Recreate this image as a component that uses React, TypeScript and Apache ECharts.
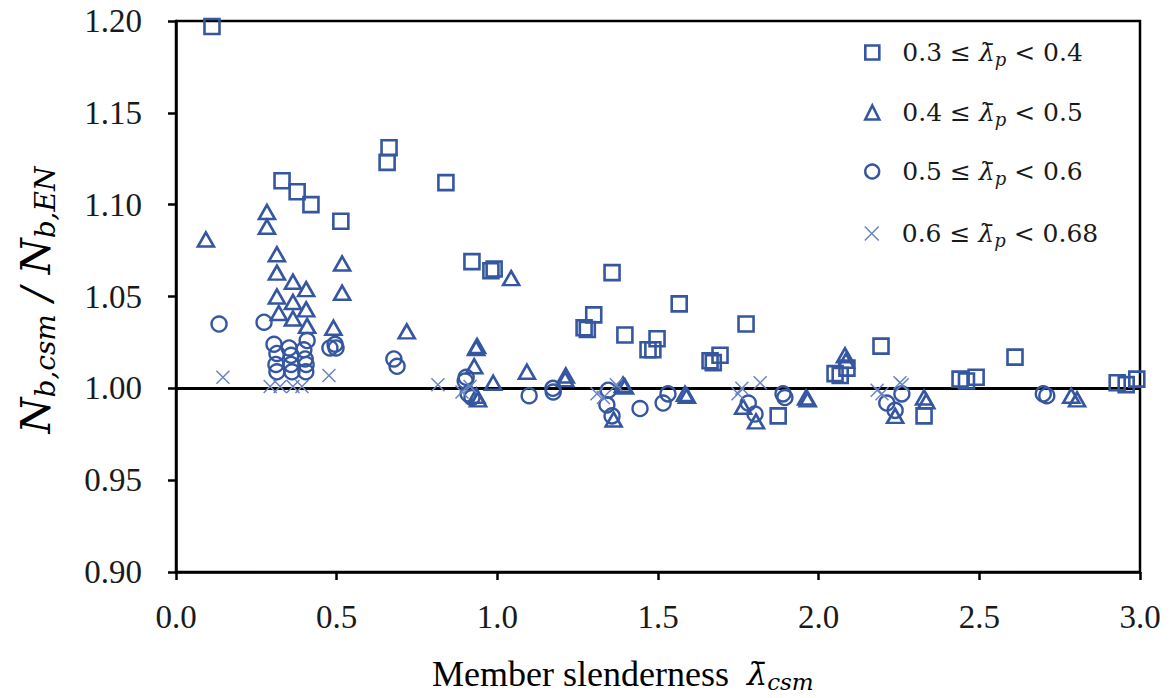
import React, { useEffect, useRef } from "react";
import * as echarts from "echarts";

// ---------- data ----------
const squares: number[][] = [
  [0.112, 1.197], [0.33, 1.113], [0.377, 1.107], [0.42, 1.1], [0.513, 1.091],
  [0.663, 1.131], [0.657, 1.123], [0.84, 1.112], [0.921, 1.069], [0.98, 1.064],
  [0.99, 1.065], [1.357, 1.063], [1.3, 1.04], [1.27, 1.033], [1.28, 1.032],
  [1.397, 1.029], [1.566, 1.046], [1.497, 1.027], [1.469, 1.021], [1.484, 1.021],
  [1.693, 1.018], [1.662, 1.015], [1.672, 1.014], [1.774, 1.035], [1.874, 0.985],
  [2.051, 1.008], [2.088, 1.011], [2.067, 1.007], [2.194, 1.023], [2.328, 0.985],
  [2.44, 1.005], [2.46, 1.004], [2.49, 1.006], [2.611, 1.017], [2.929, 1.003],
  [2.957, 1.002], [2.99, 1.005],
];

const triangles: number[][] = [
  [0.093, 1.081], [0.283, 1.096], [0.283, 1.088], [0.314, 1.073], [0.314, 1.063],
  [0.364, 1.058], [0.405, 1.054], [0.314, 1.05], [0.364, 1.047], [0.405, 1.043],
  [0.32, 1.041], [0.364, 1.038], [0.408, 1.034], [0.517, 1.068], [0.517, 1.052],
  [0.49, 1.033], [0.718, 1.031], [1.043, 1.06], [0.934, 1.022], [0.937, 1.023],
  [0.928, 1.012], [0.987, 1.003], [1.092, 1.009], [1.211, 1.005], [1.213, 1.007],
  [0.94, 0.994], [0.935, 0.996], [1.397, 1.001], [1.391, 1.002], [1.362, 0.983],
  [1.584, 0.997], [1.59, 0.996], [1.765, 0.99], [1.805, 0.982], [1.961, 0.995],
  [1.966, 0.994], [2.082, 1.018], [2.085, 1.015], [2.238, 0.985], [2.328, 0.995],
  [2.335, 0.993], [2.786, 0.996], [2.804, 0.994],
];

const circles: number[][] = [
  [0.134, 1.035], [0.274, 1.036], [0.305, 1.024], [0.314, 1.019], [0.311, 1.013],
  [0.314, 1.009], [0.352, 1.022], [0.358, 1.018], [0.358, 1.013], [0.361, 1.009],
  [0.398, 1.021], [0.402, 1.016], [0.405, 1.013], [0.404, 1.009], [0.408, 1.026],
  [0.479, 1.022], [0.495, 1.024], [0.498, 1.022], [0.678, 1.016], [0.688, 1.012],
  [0.903, 1.006], [0.9, 1.004], [0.909, 0.997], [0.921, 0.995], [1.099, 0.996],
  [1.173, 1.0], [1.174, 0.998], [1.345, 0.999], [1.341, 0.991], [1.357, 0.985],
  [1.444, 0.989], [1.516, 0.992], [1.531, 0.997], [1.781, 0.992], [1.802, 0.986],
  [1.889, 0.997], [1.895, 0.995], [2.212, 0.992], [2.238, 0.988], [2.259, 0.997],
  [2.699, 0.997], [2.71, 0.996],
];

const crosses: number[][] = [
  [0.146, 1.006], [0.293, 1.001], [0.324, 1.001], [0.364, 1.001], [0.392, 1.001],
  [0.476, 1.007], [0.815, 1.002], [0.89, 0.998], [0.915, 1.001], [1.31, 0.997],
  [1.33, 0.995], [1.37, 1.002], [1.749, 0.997], [1.761, 1.0], [1.818, 1.003],
  [2.182, 0.999], [2.197, 0.997], [2.253, 1.003], [2.26, 1.002],
];

const legendLow = ["0.3", "0.4", "0.5", "0.6"];
const legendHigh = ["0.4", "0.5", "0.6", "0.68"];
const seriesNames = legendLow.map((lo, i) => `${lo} ≤ λ̄p < ${legendHigh[i]}`);

const xMin = 0, xMax = 3, xStep = 0.5;
const yMin = 0.9, yMax = 1.2, yStep = 0.05;
const refLine = 1.0;

// ---------- styles ----------
const BLUE = "#3556a0";
const CROSS_BLUE = "#6a84c2";
const CROSS_PATH = "path://M0,0L10,10M10,0L0,10";
const LEG_TOPS = [40, 100, 159, 221];
const INK = "#1a1a1a";

const symbols = ["rect", "triangle", "circle", CROSS_PATH];
const sizes: any[] = [15, [16, 14], 15, 13];
const strokes = [BLUE, BLUE, BLUE, CROSS_BLUE];
const widths = [2.6, 2.6, 2.4, 1.5];
const datasets = [squares, triangles, circles, crosses];

const legendRich = {
  t: { fontFamily: "DejaVu Serif", fontSize: 25, color: INK },
  l: { fontFamily: "DejaVu Serif", fontStyle: "italic", fontSize: 25, color: INK },
  s: { fontFamily: "DejaVu Serif", fontStyle: "italic", fontSize: 18, color: INK, padding: [14, 0, 0, 0] },
};

export default function App() {
  const ref = useRef<HTMLDivElement>(null);
  useEffect(() => {
    const chart = echarts.init(ref.current!, null, { renderer: "svg" });
    const series: any[] = datasets.map((d, i) => ({
      type: "scatter",
      name: seriesNames[i],
      data: d,
      symbol: symbols[i],
      symbolSize: sizes[i],
      itemStyle: { color: "rgba(0,0,0,0)", borderColor: strokes[i], borderWidth: widths[i], opacity: 1 },
      emphasis: { disabled: true },
      z: 3,
    }));
    series[0].markLine = {
      silent: true,
      symbol: "none",
      z: 2,
      label: { show: false },
      lineStyle: { color: "#000", width: 3, type: "solid", opacity: 1 },
      data: [{ yAxis: refLine }],
    };
    const legends = seriesNames.map((n, i) => ({
      data: [n],
      left: 864,
      top: LEG_TOPS[i],
      padding: 0,
      selectedMode: false,
      itemWidth: 14,
      itemHeight: 14,
      icon: symbols[i],
      itemStyle: { color: "rgba(0,0,0,0)", borderColor: strokes[i], borderWidth: widths[i] },
      formatter: () => `{t|${legendLow[i]} ≤ }{l|λ̄}{s|p}{t| < ${legendHigh[i]}}`,
      textStyle: { padding: [0, 0, 0, 18], rich: legendRich },
    }));
    chart.setOption({
      animation: false,
      backgroundColor: "#fff",
      grid: { left: 176, top: 21, right: 32, bottom: 126, show: true, borderColor: "#000", borderWidth: 2.5 },
      xAxis: {
        type: "value",
        min: xMin,
        max: xMax,
        interval: xStep,
        axisLine: { show: true, lineStyle: { color: "#000", width: 2.5 } },
        axisTick: { show: true, inside: false, length: 8, lineStyle: { color: "#000", width: 2.5 } },
        axisLabel: {
          margin: 28,
          fontFamily: "Liberation Serif",
          fontSize: 33,
          color: INK,
          formatter: (v: number) => v.toFixed(1),
        },
        splitLine: { show: false },
      },
      yAxis: {
        type: "value",
        min: yMin,
        max: yMax,
        interval: yStep,
        axisLine: { show: true, lineStyle: { color: "#000", width: 2.5 } },
        axisTick: { show: true, inside: false, length: 8, lineStyle: { color: "#000", width: 2.5 } },
        axisLabel: {
          margin: 34,
          fontFamily: "Liberation Serif",
          fontSize: 33,
          color: INK,
          formatter: (v: number) => v.toFixed(2),
        },
        splitLine: { show: false },
      },
      legend: legends,
      graphic: [
        {
          type: "text",
          left: 432,
          top: 656,
          style: {
            text: "{a|Member slenderness  }{l|λ̄}{s|csm}",
            rich: {
              a: { fontFamily: "Liberation Serif", fontSize: 36, color: INK },
              l: { fontFamily: "DejaVu Serif", fontStyle: "italic", fontSize: 32, color: INK },
              s: { fontFamily: "DejaVu Serif", fontStyle: "italic", fontSize: 23, color: INK, padding: [16, 0, 0, 0] },
            },
          },
        },
        {
          type: "text",
          x: 36,
          y: 300,
          rotation: Math.PI / 2,
          style: {
            text: "{n|N}{s|b,csm}{t| / }{n|N}{s|b,EN}",
            align: "center",
            verticalAlign: "middle",
            rich: {
              n: { fontFamily: "DejaVu Serif", fontStyle: "italic", fontSize: 41, color: INK },
              s: { fontFamily: "DejaVu Serif", fontStyle: "italic", fontSize: 28, color: INK, padding: [18, 0, 0, 0] },
              t: { fontFamily: "DejaVu Serif", fontStyle: "italic", fontSize: 41, color: INK },
            },
          },
        },
      ],
      series,
    });
    return () => chart.dispose();
  }, []);
  return (
    <div
      ref={ref}
      style={{ position: "absolute", left: 0, top: 0, width: 1172, height: 698, background: "#fff" }}
    />
  );
}
